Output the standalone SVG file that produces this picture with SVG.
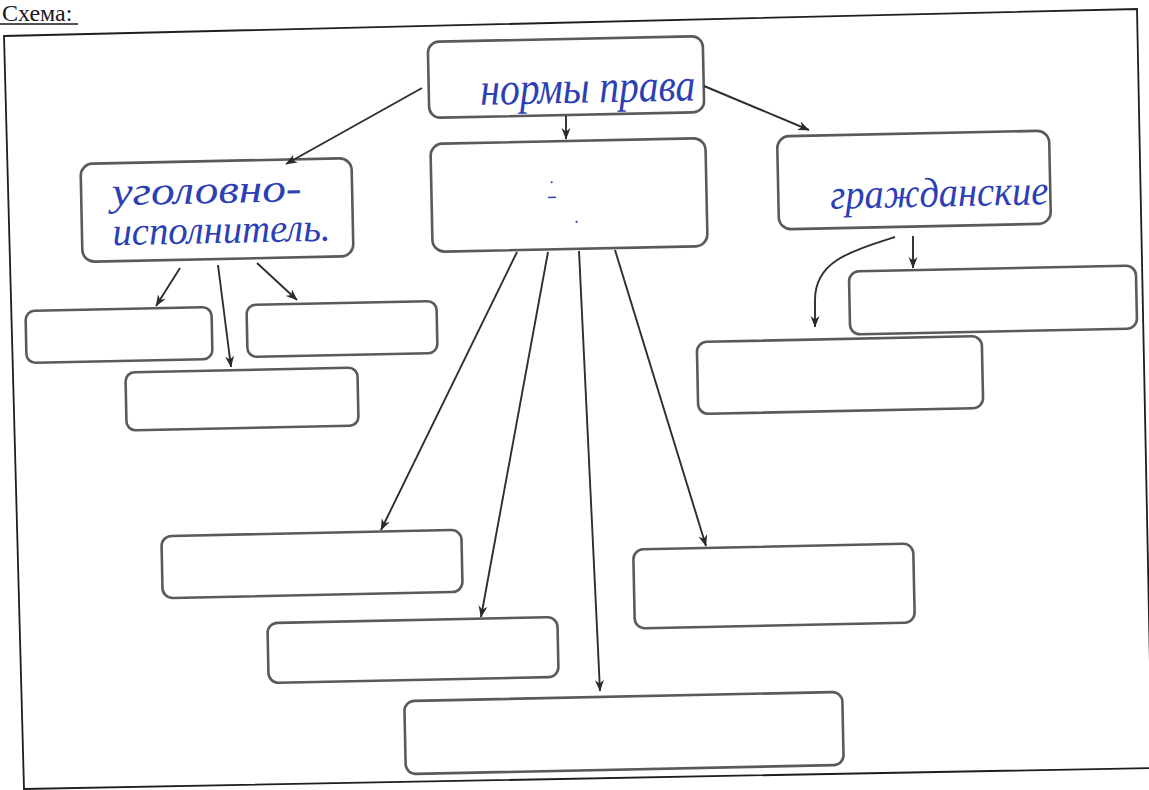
<svg xmlns="http://www.w3.org/2000/svg" width="1149" height="790" viewBox="0 0 1149 790">
<defs>
<marker id="ah" viewBox="0 0 12 10" refX="11" refY="5" markerWidth="12" markerHeight="10" markerUnits="userSpaceOnUse" orient="auto">
<path d="M0,0.5 L11.5,5 L0,9.5 L3.5,5 Z" fill="#2a2a2a"/>
</marker>
<style>
.box{fill:#ffffff;stroke:#5a5a5a;stroke-width:2.6}
.con{fill:none;stroke:#2e2e2e;stroke-width:1.9;marker-end:url(#ah)}
.hand{font-family:"Liberation Serif","DejaVu Serif",serif;font-style:italic;fill:#2c3fb4}
.frame{fill:none;stroke:#1e1e1e;stroke-width:1.8}
</style>
</defs>
<rect x="0" y="0" width="1149" height="790" fill="#ffffff"/>
<text x="2" y="21" font-family="'Liberation Serif',serif" font-size="24" fill="#1a1a1a">Схема:</text>
<line x1="0" y1="24" x2="78" y2="24" stroke="#1a1a1a" stroke-width="1.3"/>
<polygon class="frame" points="4,36 1137,9 1152,768 24,789"/>
<g id="n-top" transform="rotate(-1.2 566 77)">
<rect class="box" x="428.5" y="39" width="275" height="76" rx="11"/>
<text class="hand" x="480" y="103" font-size="46" textLength="215" lengthAdjust="spacingAndGlyphs">нормы права</text>
</g>
<g id="n-center" transform="rotate(-1.2 569 195)">
<rect class="box" x="431.5" y="141" width="275" height="108" rx="12"/>
<circle cx="552" cy="182" r="1" fill="#2c3fb4"/>
<line x1="548" y1="197" x2="556" y2="197" stroke="#2c3fb4" stroke-width="1.5"/>
<circle cx="576" cy="222" r="1.1" fill="#2c3fb4"/>
</g>
<g id="n-ui" transform="rotate(-1.2 217 210)">
<rect class="box" x="81.5" y="161" width="271" height="98" rx="12"/>
<text class="hand" x="112" y="203" font-size="40" textLength="190" lengthAdjust="spacingAndGlyphs">уголовно-</text>
<text class="hand" x="112" y="243" font-size="40" textLength="218" lengthAdjust="spacingAndGlyphs">исполнитель.</text>
</g>
<g id="n-l1" transform="rotate(-1.2 119 335)">
<rect class="box" x="26" y="309" width="186" height="52" rx="9"/>
</g>
<g id="n-l2" transform="rotate(-1.2 342 329)">
<rect class="box" x="247" y="303" width="190" height="52" rx="9"/>
</g>
<g id="n-l3" transform="rotate(-1.2 242 399)">
<rect class="box" x="126" y="370" width="232" height="58" rx="9"/>
</g>
<g id="n-civ" transform="rotate(-1.2 914 180)">
<rect class="box" x="778" y="133.5" width="272" height="93" rx="12"/>
<text class="hand" x="830" y="207" font-size="42" textLength="218" lengthAdjust="spacingAndGlyphs">гражданские</text>
</g>
<g id="n-r1" transform="rotate(-1.2 993 300)">
<rect class="box" x="849.5" y="268.5" width="287" height="63" rx="10"/>
</g>
<g id="n-r2" transform="rotate(-1.2 840 375)">
<rect class="box" x="697.5" y="339" width="285" height="72" rx="10"/>
</g>
<g id="n-b1" transform="rotate(-1.2 312 564)">
<rect class="box" x="162" y="533" width="300" height="62" rx="10"/>
</g>
<g id="n-b2" transform="rotate(-1.2 413 650)">
<rect class="box" x="268" y="620" width="290" height="60" rx="10"/>
</g>
<g id="n-b4" transform="rotate(-1.2 774 586)">
<rect class="box" x="634" y="546.5" width="280" height="79" rx="10"/>
</g>
<g id="n-b3" transform="rotate(-1.2 624 733)">
<rect class="box" x="405" y="696.5" width="438" height="73" rx="10"/>
</g>
<g id="connectors">
<path class="con" d="M422,88 L286,164"/>
<path class="con" d="M566,116 L566,139"/>
<path class="con" d="M704,86 L809,130"/>
<path class="con" d="M180,268 L156,306"/>
<path class="con" d="M218,265 L231,367"/>
<path class="con" d="M257,263 L297,300"/>
<path class="con" d="M913,236 L913,268"/>
<path class="con" d="M895,237 C848,252 815,262 815,300 L815,327"/>
<path class="con" d="M517,252 L381,530"/>
<path class="con" d="M548,252 L481,617"/>
<path class="con" d="M579,251 L600,691"/>
<path class="con" d="M615,250 L706,546"/>
</g>
</svg>
